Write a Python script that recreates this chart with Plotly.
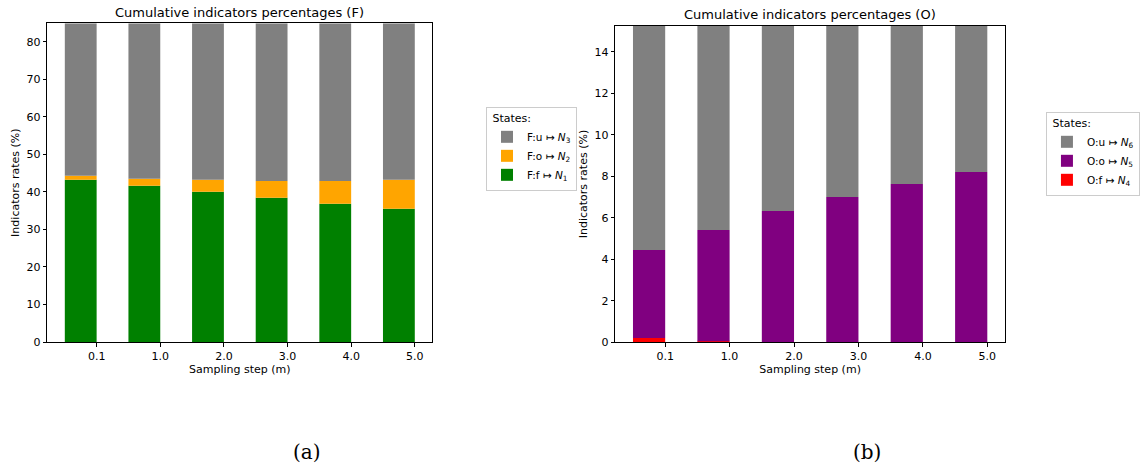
import plotly.graph_objects as go

categories = ["0.1", "1.0", "2.0", "3.0", "4.0", "5.0"]

# Panel (a) F
f_f = [43.2, 41.6, 40.0, 38.4, 36.8, 35.5]
f_o = [1.1, 1.9, 3.2, 4.5, 6.1, 7.7]
f_u = [40.6, 41.4, 41.7, 42.0, 42.0, 41.7]

# Panel (b) O
o_f = [0.21, 0.05, 0.0, 0.0, 0.0, 0.0]
o_o = [4.24, 5.36, 6.33, 7.0, 7.63, 8.2]
o_u = [10.8, 9.84, 8.92, 8.25, 7.62, 7.05]

FONT = "DejaVu Sans"
xs = list(range(len(categories)))

fig = go.Figure()

def add_bar(y, base, color, name, xa, ya, legend):
    fig.add_trace(go.Bar(
        x=xs, y=y, base=base, width=0.5, offset=-0.5,
        marker=dict(color=color, line=dict(width=0)),
        name=name, xaxis=xa, yaxis=ya, legend=legend,
        hoverinfo="skip"))

base_o = f_f
base_u = [a + b for a, b in zip(f_f, f_o)]
add_bar(f_f, [0]*6, "#008000", "F:f ↦ <i>N</i><sub>1</sub>", "x", "y", "legend")
add_bar(f_o, base_o, "#FFA500", "F:o ↦ <i>N</i><sub>2</sub>", "x", "y", "legend")
add_bar(f_u, base_u, "#808080", "F:u ↦ <i>N</i><sub>3</sub>", "x", "y", "legend")

ob_o = o_f
ob_u = [a + b for a, b in zip(o_f, o_o)]
add_bar(o_f, [0]*6, "#FF0000", "O:f ↦ <i>N</i><sub>4</sub>", "x2", "y2", "legend2")
add_bar(o_o, ob_o, "#800080", "O:o ↦ <i>N</i><sub>5</sub>", "x2", "y2", "legend2")
add_bar(o_u, ob_u, "#808080", "O:u ↦ <i>N</i><sub>6</sub>", "x2", "y2", "legend2")

axis_common = dict(
    showline=True, linecolor="black", linewidth=1, mirror=True,
    ticks="outside", ticklen=3.5, tickwidth=1, tickcolor="black",
    showgrid=False, zeroline=False, automargin=False,
    tickfont=dict(family=FONT, size=11, color="black"),
)

legend_common = dict(
    xanchor="left", yanchor="top",
    traceorder="reversed", bgcolor="white",
    bordercolor="#cccccc", borderwidth=1,
    title=dict(text=" States:", font=dict(family=FONT, size=11)),
    font=dict(family=FONT, size=10.5), tracegroupgap=0,
    itemwidth=30,
)

fig.update_layout(
    width=1140, height=470,
    margin=dict(l=0, r=0, t=0, b=0, autoexpand=False),
    paper_bgcolor="white", plot_bgcolor="white",
    barmode="overlay",
    font=dict(family=FONT, size=11, color="black"),
    xaxis=dict(domain=[0.0415, 0.3792], anchor="y", range=[-0.775, 5.275],
               tickmode="array", tickvals=xs, ticktext=categories,
               title=dict(text="Sampling step (m)", standoff=2,
                          font=dict(family=FONT, size=11)),
               **axis_common),
    yaxis=dict(domain=[0.2723, 0.9504], anchor="x", range=[0, 84.9],
               tickmode="array", tickvals=list(range(0, 81, 10)),
               title=dict(text="Indicators rates (%)", standoff=4,
                          font=dict(family=FONT, size=11)),
               **axis_common),
    xaxis2=dict(domain=[0.5397, 0.8816], anchor="y2", range=[-0.775, 5.275],
                tickmode="array", tickvals=xs, ticktext=categories,
                title=dict(text="Sampling step (m)", standoff=2,
                           font=dict(family=FONT, size=11)),
                **axis_common),
    yaxis2=dict(domain=[0.2717, 0.9453], anchor="x2", range=[0, 15.25],
                tickmode="array", tickvals=list(range(0, 15, 2)),
                title=dict(text="Indicators rates (%)", standoff=4,
                           font=dict(family=FONT, size=11)),
                **axis_common),
    legend=dict(x=0.4263, y=0.7723, **legend_common),
    legend2=dict(x=0.9175, y=0.7617, **legend_common),
    annotations=[
        dict(text="Cumulative indicators percentages (F)", x=0.2104, y=0.974,
             xref="paper", yref="paper", xanchor="center", yanchor="middle",
             showarrow=False,
             font=dict(family=FONT, size=13, color="black")),
        dict(text="Cumulative indicators percentages (O)", x=0.7106, y=0.970,
             xref="paper", yref="paper", xanchor="center", yanchor="middle",
             showarrow=False,
             font=dict(family=FONT, size=13, color="black")),
        dict(text="(a)", x=0.2693, y=0.038, xref="paper", yref="paper",
             xanchor="center", yanchor="middle", showarrow=False,
             font=dict(family="DejaVu Serif", size=20, color="black")),
        dict(text="(b)", x=0.7605, y=0.038, xref="paper", yref="paper",
             xanchor="center", yanchor="middle", showarrow=False,
             font=dict(family="DejaVu Serif", size=20, color="black")),
    ],
)

fig.write_html("out.html",
               config={"displayModeBar": False},
               post_script="document.body.style.margin='0';")
